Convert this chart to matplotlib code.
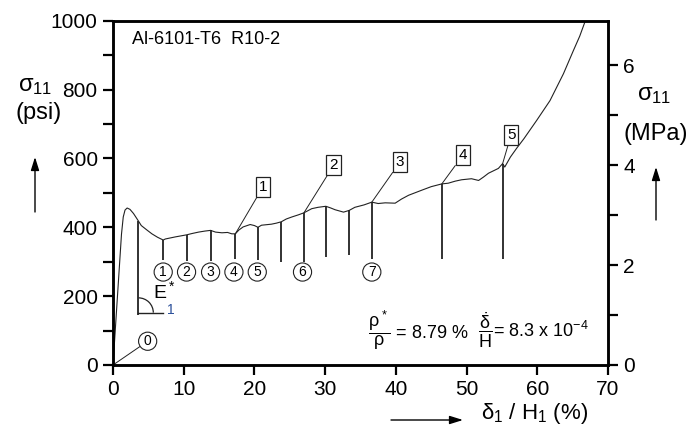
import numpy as np
import matplotlib.pyplot as plt
from matplotlib.ticker import MultipleLocator
from matplotlib.patches import Arc

plt.rcParams['font.family'] = ['Liberation Sans', 'DejaVu Sans']
plt.rcParams['mathtext.fontset'] = 'custom'
plt.rcParams['mathtext.rm'] = 'Liberation Sans'
plt.rcParams['mathtext.it'] = 'Liberation Sans'
plt.rcParams['mathtext.sf'] = 'Liberation Sans'

# loading envelope: nominal strain (%) vs stress (psi)
strain = [0.0, 0.6, 1.2, 1.45, 1.7, 2.0, 2.4, 2.9, 3.6, 4.0, 4.8, 5.5, 6.3, 7.1,
          7.4, 8.8, 10.4, 11.2, 12.1, 13.0, 13.8, 14.5, 15.4, 16.2, 16.8, 17.3,
          17.8, 18.4, 19.4, 20.0, 20.5, 21.0, 22.4, 23.1, 23.8, 24.5, 25.3, 26.2,
          27.0, 28.1, 29.0, 30.1, 30.8, 31.4, 32.6, 33.4, 34.2, 35.5, 36.6, 37.5,
          38.5, 39.9, 40.8, 41.8, 43.7, 45.0, 46.5, 47.4, 48.4, 49.3, 50.7, 51.7,
          52.4, 53.1, 54.5, 55.1, 55.4, 56.2, 57.1, 58.1, 59.9, 61.8, 63.7, 65.1,
          66.0, 66.8]
stress = [0, 190, 380, 430, 450, 456, 452, 440, 418, 405, 392, 381, 371, 363,
          366, 372, 378, 382, 386, 389, 391, 386, 384, 385, 381, 381,
          392, 401, 408, 405, 400, 406, 409, 412, 416, 424, 430, 436,
          442, 454, 458, 461, 456, 451, 444, 449, 458, 465, 473, 469,
          471, 470, 482, 493, 508, 518, 526, 528, 534, 538, 541, 536,
          546, 557, 571, 585, 575, 604, 630, 657, 710, 768, 846, 913,
          955, 1000]

# partial unloadings
unl_strain = [3.6, 7.1, 10.4, 13.8, 17.3, 20.5, 23.8, 27.0, 30.1, 33.4, 36.6, 46.5, 55.1]
unl_top = [418, 363, 378, 391, 381, 400, 416, 442, 461, 449, 473, 526, 585]
unl_bot = [145, 304, 302, 302, 309, 304, 300, 300, 314, 319, 309, 309, 309]

# circled image numbers (0 = undeformed) and boxed stage numbers
circ_labels = ['1', '2', '3', '4', '5', '6', '7']
circ_x = [7.1, 10.4, 13.8, 17.1, 20.4, 26.8, 36.6]
circ_y = 270
box_labels = ['1', '2', '3', '4', '5']
box_x = [21.2, 31.2, 40.6, 49.5, 56.3]
box_y = [517, 580, 590, 610, 669]
box_target = [4, 7, 10, 11, 12]   # index into the unloadings

PSI_TO_MPA = 0.0068948

fig = plt.figure(figsize=(6.95, 4.32), dpi=100)
ax = fig.add_axes([113 / 695, 1 - 365 / 432, (608 - 113) / 695, (365 - 20.7) / 432])

ax.plot(strain, stress, color='#222222', lw=0.8)
ax.vlines(unl_strain, unl_bot, unl_top, color='#222222', lw=1.3)

ax.set_xlim(0, 70)
ax.set_ylim(0, 1000)
ax.xaxis.set_major_locator(MultipleLocator(10))
ax.yaxis.set_major_locator(MultipleLocator(200))
ax.yaxis.set_minor_locator(MultipleLocator(100))

ax2 = ax.twinx()
ax2.set_ylim(0, 1000 * PSI_TO_MPA)
ax2.yaxis.set_major_locator(MultipleLocator(2))
ax2.yaxis.set_minor_locator(MultipleLocator(1))

for a in (ax, ax2):
    for sp in a.spines.values():
        sp.set_linewidth(1.8)
    a.tick_params(which='both', direction='out', length=7, width=1.6,
                  labelsize=15, pad=4)

# text labels inside the plot
ax.text(2.7, 944, 'Al-6101-T6  R10-2', fontsize=13, va='center')

for lab, x in zip(circ_labels, circ_x):
    ax.text(x, circ_y, lab, fontsize=10, ha='center', va='center',
            bbox=dict(boxstyle='circle,pad=0.15', fc='white', ec='#222222', lw=0.8))

ax.annotate('0', xy=(0, 0), xytext=(4.9, 69), fontsize=10, ha='center', va='center',
            bbox=dict(boxstyle='circle,pad=0.15', fc='white', ec='#222222', lw=0.8),
            arrowprops=dict(arrowstyle='-', color='#222222', lw=0.7, shrinkA=0, shrinkB=0))

for lab, x, y, k in zip(box_labels, box_x, box_y, box_target):
    ax.annotate(lab, xy=(unl_strain[k], unl_top[k]), xytext=(x, y), fontsize=11,
                ha='center', va='center',
                bbox=dict(boxstyle='square,pad=0.2', fc='white', ec='#222222', lw=0.9),
                arrowprops=dict(arrowstyle='-', color='#222222', lw=0.7, shrinkA=0, shrinkB=0))

# unloading modulus angle
e1_x, e1_y = unl_strain[0], unl_bot[0] + 7
ax.plot([e1_x, e1_x + 3.4], [e1_y, e1_y], color='#222222', lw=1.0)
ax.add_patch(Arc((e1_x, e1_y), 2 * 2.1, 2 * 43, theta1=0, theta2=90,
                 color='#222222', lw=0.9))
ax.text(5.6, 182, r'E$^*$', fontsize=14, va='bottom')
ax.text(7.7, 180, '1', fontsize=10, va='top', color='#2a4f9a')

ax.text(36.0, 101, r'$\dfrac{\rho^*}{\rho}$ = 8.79 %', fontsize=13, va='center')
ax.text(51.6, 101, r'$\dfrac{\dot{\delta}}{H}$= 8.3 x 10$^{-4}$', fontsize=13, va='center')

# axis titles with arrows
fig.text(35 / 695, 1 - 86 / 432, r'$\sigma_{11}$', fontsize=17, ha='center', va='center')
fig.text(39 / 695, 1 - 113 / 432, '(psi)', fontsize=17, ha='center', va='center')
fig.text(654 / 695, 1 - 95 / 432, r'$\sigma_{11}$', fontsize=17, ha='center', va='center')
fig.text(656 / 695, 1 - 134 / 432, '(MPa)', fontsize=17, ha='center', va='center')
fig.text(481 / 695, 1 - 414 / 432, r'$\delta_1$ / H$_1$ (%)', fontsize=16, ha='left', va='center')

arrow = dict(arrowstyle='-|>,head_length=0.8,head_width=0.25', color='black', lw=1.0,
             shrinkA=0, shrinkB=0)
ax.annotate('', xy=(35, 432 - 157), xytext=(35, 432 - 212), xycoords='figure pixels',
            textcoords='figure pixels', arrowprops=arrow, annotation_clip=False)
ax.annotate('', xy=(656, 432 - 167), xytext=(656, 432 - 220), xycoords='figure pixels',
            textcoords='figure pixels', arrowprops=arrow, annotation_clip=False)
ax.annotate('', xy=(463, 432 - 420), xytext=(391, 432 - 420), xycoords='figure pixels',
            textcoords='figure pixels', arrowprops=arrow, annotation_clip=False)

fig.savefig('out.png', dpi=100)
